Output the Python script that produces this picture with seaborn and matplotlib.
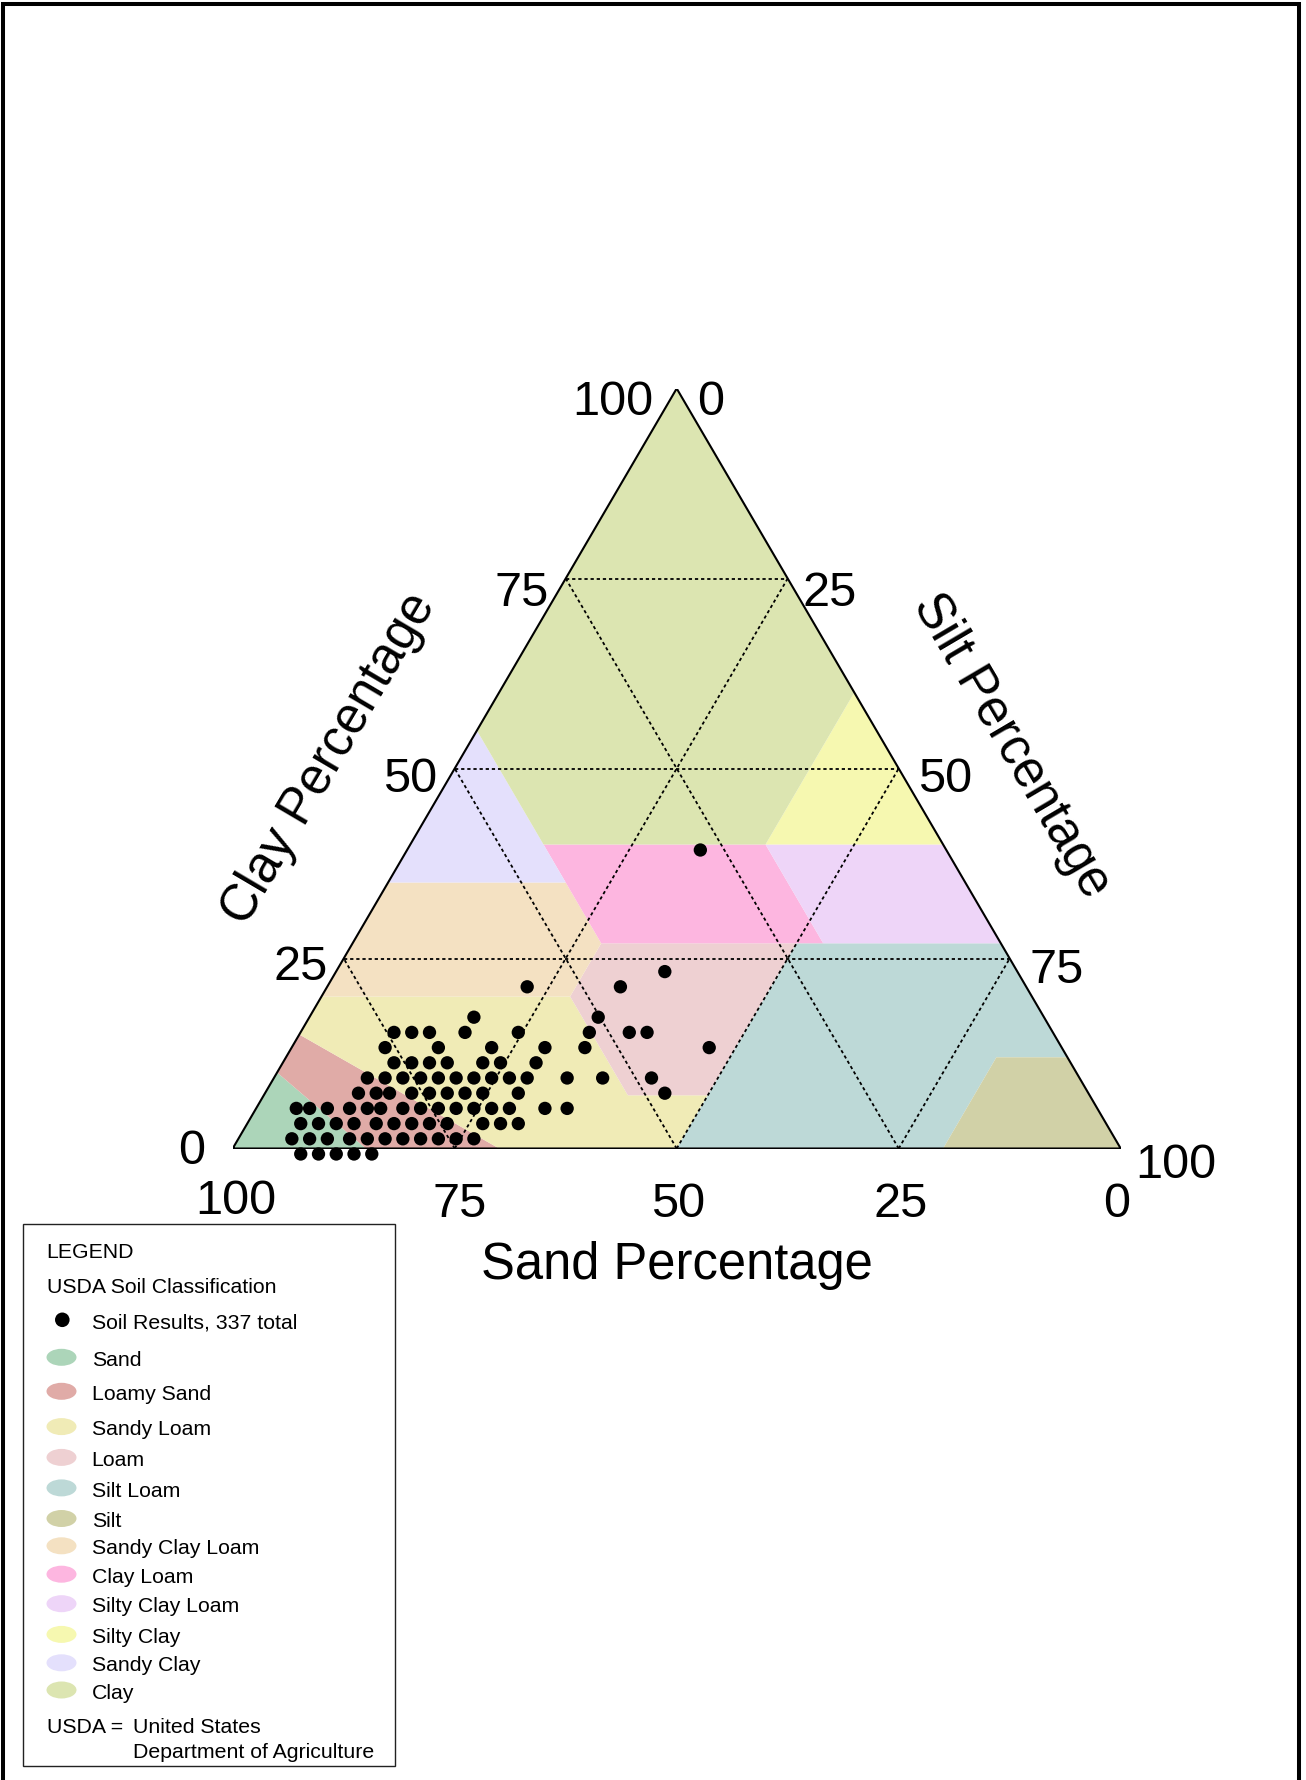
import matplotlib
matplotlib.use("Agg")
import matplotlib.pyplot as plt
import matplotlib.transforms as mtransforms
from matplotlib.patches import Ellipse, Rectangle
import pandas as pd
import seaborn as sns

# ---------------------------------------------------------------------------
# Soil sample results (percent by mass); sand = 100 - clay - silt
# ---------------------------------------------------------------------------
sample_clay = [
    0, 0, 0, 0, 0,
    2, 2, 2, 2, 2, 2, 2, 2, 2, 2, 2,
    4, 4, 4, 4, 4, 4, 4, 4, 4, 4, 4, 4,
    6, 6, 6, 6, 6, 6, 6, 6, 6, 6, 6, 6, 6, 6, 6,
    8, 8, 8, 8, 8, 8, 8, 8, 8, 8,
    10, 10, 10, 10, 10, 10, 10, 10, 10, 10, 10, 10, 10,
    12, 12, 12, 12, 12, 12, 12,
    14, 14, 14, 14, 14, 14,
    16, 16, 16, 16, 16, 16, 16, 16,
    18, 18,
    22, 22,
    24,
    40,
]
sample_silt = [
    8, 10, 12, 14, 16,
    6, 8, 10, 12.5, 14.5, 16.5, 18.5, 20.5, 22.5, 24.5, 26.5,
    6, 8, 10, 12, 14.5, 16.5, 18.5, 20.5, 22.5, 26.5, 28.5, 30.5,
    4.5, 6, 8, 10.5, 12.5, 14, 16.5, 18.5, 20.5, 22.5, 24.5, 26.5, 28.5, 32.5, 35,
    10.5, 12.5, 14, 16.5, 18.5, 20.5, 22.5, 24.5, 28.5, 45,
    10.5, 12.5, 14.5, 16.5, 18.5, 20.5, 22.5, 24.5, 26.5, 28.5, 33, 37, 42.5,
    12.5, 14.5, 16.5, 18.5, 22.5, 24.5, 28.5,
    10.5, 16.5, 22.5, 28.5, 33, 47,
    10.5, 12.5, 14.5, 18.5, 24.5, 32.5, 37, 39,
    18.5, 32.5,
    22.5, 33,
    37,
    33,
]
total_results = 337

# ---------------------------------------------------------------------------
# USDA texture classes: polygon corners as (sand, silt, clay)
# ---------------------------------------------------------------------------
sand_poly = [(100, 0, 0), (90, 0, 10), (85, 15, 0)]
loamy_sand_poly = [(85, 15, 0), (90, 0, 10), (85, 0, 15), (70, 30, 0)]
sandy_loam_poly = [(70, 30, 0), (85, 0, 15), (80, 0, 20), (52, 28, 20),
                   (52, 41, 7), (43, 50, 7), (50, 50, 0)]
loam_poly = [(52, 41, 7), (52, 28, 20), (45, 28, 27), (23, 50, 27), (43, 50, 7)]
silt_loam_poly = [(50, 50, 0), (43, 50, 7), (23, 50, 27), (0, 73, 27),
                  (0, 88, 12), (8, 80, 12), (20, 80, 0)]
silt_poly = [(20, 80, 0), (8, 80, 12), (0, 88, 12), (0, 100, 0)]
sandy_clay_loam_poly = [(80, 0, 20), (65, 0, 35), (45, 20, 35), (45, 28, 27), (52, 28, 20)]
clay_loam_poly = [(45, 28, 27), (45, 15, 40), (20, 40, 40), (20, 53, 27)]
silty_clay_loam_poly = [(20, 53, 27), (20, 40, 40), (0, 60, 40), (0, 73, 27)]
silty_clay_poly = [(20, 40, 40), (0, 60, 40), (0, 40, 60)]
sandy_clay_poly = [(65, 0, 35), (45, 0, 55), (45, 20, 35)]
clay_poly = [(45, 0, 55), (45, 15, 40), (20, 40, 40), (0, 40, 60), (0, 0, 100)]

class_names = ["Sand", "Loamy Sand", "Sandy Loam", "Loam", "Silt Loam", "Silt",
               "Sandy Clay Loam", "Clay Loam", "Silty Clay Loam", "Silty Clay",
               "Sandy Clay", "Clay"]
class_polys = [sand_poly, loamy_sand_poly, sandy_loam_poly, loam_poly, silt_loam_poly,
               silt_poly, sandy_clay_loam_poly, clay_loam_poly, silty_clay_loam_poly,
               silty_clay_poly, sandy_clay_poly, clay_poly]
class_colors = ["#acd5b9", "#e0aba7", "#f0ebb6", "#eed0d2", "#bdd9d7", "#d1d1a7",
                "#f4e1c2", "#fdb6e0", "#eed5f8", "#f6f8b0", "#e4e0fc", "#dce5b1"]

tick_values = [0, 25, 50, 75, 100]

# ---------------------------------------------------------------------------
sns.set_theme(style="white")
plt.rcParams["font.family"] = ["Liberation Sans", "DejaVu Sans"]
plt.rcParams["text.color"] = "black"

W, H = 1306, 1781
fig = plt.figure(figsize=(W / 100, H / 100), dpi=100, facecolor="white")

# full-page layer in pixel units for the page frame, titles and legend
page = fig.add_axes([0, 0, 1, 1])
page.set_xlim(0, W)
page.set_ylim(H, 0)
page.axis("off")

# ternary layer: x = silt + clay / 2, y = clay
x0, x1, ybot, ytop = 232.7, 1120.7, 1149.5, 389.5
ax = fig.add_axes([x0 / W, (H - ybot) / H, (x1 - x0) / W, (ybot - ytop) / H])
ax.patch.set_alpha(0)


def to_xy(sand, silt, clay):
    return silt + clay / 2.0, clay


for poly, col in zip(class_polys, class_colors):
    pts = [to_xy(*p) for p in poly]
    ax.fill([p[0] for p in pts], [p[1] for p in pts], color=col, lw=0, zorder=1)

# dotted reference lines at 25 / 50 / 75 for each component
grid_kw = dict(color="black", lw=1.3, ls=(0, (1.8, 1.6)), zorder=2)
for v in (25, 50, 75):
    ax.plot([v / 2, 100 - v / 2], [v, v], **grid_kw)                   # clay = v
    ax.plot([100 - v, (100 - v) / 2], [0, 100 - v], **grid_kw)         # sand = v
    ax.plot([v, v + (100 - v) / 2], [0, 100 - v], **grid_kw)           # silt = v

ax.plot([0, 100, 50, 0], [0, 0, 100, 0], color="black", lw=1.5, zorder=3,
        solid_joinstyle="miter")

df = pd.DataFrame({"clay": sample_clay, "silt": sample_silt})
df["sand"] = 100 - df["clay"] - df["silt"]
df["x"] = df["silt"] + df["clay"] / 2.0
df["y"] = df["clay"]

marker_trans = mtransforms.offset_copy(ax.transData, fig=fig, x=-3, y=-5.5, units="dots")
sns.scatterplot(data=df, x="x", y="y", ax=ax, color="black", s=92, edgecolor="none",
                linewidth=0, legend=False, zorder=4, clip_on=False, transform=marker_trans)

ax.set_xlim(0, 100)
ax.set_ylim(0, 100)
ax.axis("off")

# tick labels along the three sides
TICK_FS = 35
half_cap = 0.358 * TICK_FS * 100 / 72
clay_off = {0: (-28, -2.5), 25: (-16, 3.5), 50: (-17.5, 5), 75: (-17, 8.8), 100: (-23.5, 8)}
silt_off = {0: (20, 8), 25: (15, 8.8), 50: (19, 5), 75: (20, 6), 100: (15, 11)}
sand_off = {100: (3, 47), 75: (5, 50), 50: (1, 50), 25: (2, 50), 0: (-4, 50)}

for v in tick_values:
    dx, dn = clay_off[v]
    ax.annotate(str(v), xy=(v / 2, v), xytext=(dx, -(dn + half_cap)),
                textcoords="offset pixels", ha="right", va="baseline",
                fontsize=TICK_FS, color="black", annotation_clip=False)
    dx, dn = silt_off[v]
    ax.annotate(str(v), xy=(50 + v / 2, 100 - v), xytext=(dx, -(dn + half_cap)),
                textcoords="offset pixels", ha="left", va="baseline",
                fontsize=TICK_FS, color="black", annotation_clip=False)
    dx, dn = sand_off[v]
    ax.annotate(str(v), xy=(100 - v, 0), xytext=(dx, -(dn + half_cap)),
                textcoords="offset pixels", ha="center", va="baseline",
                fontsize=TICK_FS, color="black", annotation_clip=False)

# axis titles
TITLE_FS = 36.5
page.text(676.9, 1266, "Sand Percentage", fontsize=TITLE_FS, ha="center", va="center",
          color="black")
page.text(329.3, 758.6, "Clay Percentage", fontsize=TITLE_FS, ha="center", va="center",
          rotation=59.5, rotation_mode="anchor", color="black")
page.text(1011.5, 746, "Silt Percentage", fontsize=TITLE_FS, ha="center", va="center",
          rotation=-59.5, rotation_mode="anchor", color="black")

# page frame (open at the bottom)
page.plot([3.3, 3.3, 1298.7, 1298.7], [H + 20, 5.3, 5.3, H + 20], color="black",
          lw=2.9, solid_joinstyle="miter", clip_on=False)

# legend
LEG_FS = 15.3
leg_cap = 0.358 * LEG_FS * 100 / 72
page.add_patch(Rectangle((22.5, 1225), 372, 542, fill=False, ec="#222222", lw=1.0))


def leg_text(x, yc, s):
    page.text(x, yc + leg_cap, s, fontsize=LEG_FS, ha="left", va="baseline", color="black")


leg_text(46.6, 1250.4, "LEGEND")
leg_text(46.6, 1285.6, "USDA Soil Classification")
page.scatter([62.3], [1320.8], s=110, color="black", edgecolor="none", zorder=3)
leg_text(91.7, 1320.8, f"Soil Results, {total_results} total")

legend_rows = [1358.3, 1392.3, 1427.6, 1458.4, 1488.9, 1519.5,
               1546.8, 1575.2, 1604.7, 1635.4, 1663.8, 1691.0]
for name, col, yc in zip(class_names, class_colors, legend_rows):
    page.add_patch(Ellipse((61.5, yc), 30, 17, color=col, lw=0))
    leg_text(91.7, yc, name)

leg_text(46.6, 1725.1, "USDA =")
leg_text(132.9, 1725.1, "United States")
leg_text(132.9, 1750.1, "Department of Agriculture")

fig.savefig("out.png", dpi=100, facecolor="white")
